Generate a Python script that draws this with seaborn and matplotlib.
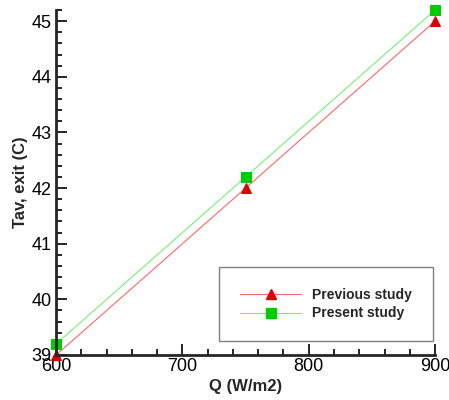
import numpy as np
import matplotlib
matplotlib.use('Agg')
import matplotlib.pyplot as plt
import pandas as pd
import seaborn as sns
from matplotlib.ticker import MultipleLocator
from matplotlib.lines import Line2D

q = [600, 750, 900]
previous = [39.0, 42.0, 45.0]
present = [39.2, 42.2, 45.2]

df = pd.DataFrame({'Q': q + q,
                   'T': previous + present,
                   'study': ['Previous study'] * 3 + ['Present study'] * 3})

sns.set_style('ticks')
plt.rcParams['font.family'] = ['Liberation Sans', 'DejaVu Sans']

fig = plt.figure(figsize=(4.49, 4.0), dpi=100)
ax = fig.add_axes([0.125, 0.1125, 0.844, 0.8625])

sns.lineplot(data=df, x='Q', y='T', hue='study', style='study',
             palette={'Previous study': '#ff6666', 'Present study': '#77ee77'},
             markers={'Previous study': '^', 'Present study': 's'},
             dashes=False, linewidth=0.8, markersize=7, ax=ax, legend=False)

# recolour markers to strong red / green
for line, mc in zip(ax.get_lines(), ['#dd0000', '#00cc00']):
    line.set_markerfacecolor(mc)
    line.set_markeredgecolor(mc)

ax.set_xlim(600, 900)
ax.set_ylim(39, 45.2)
ax.xaxis.set_major_locator(MultipleLocator(100))
ax.xaxis.set_minor_locator(MultipleLocator(20))
ax.yaxis.set_major_locator(MultipleLocator(1))
ax.yaxis.set_minor_locator(MultipleLocator(0.2))
ax.tick_params(which='both', direction='in', width=1.2, labelsize=13, colors='black')
ax.tick_params(which='major', length=8)
ax.tick_params(which='minor', length=4)
ax.tick_params(axis='x', pad=2)

for s in ['top', 'right']:
    ax.spines[s].set_visible(False)
for s in ['left', 'bottom']:
    ax.spines[s].set_linewidth(2)

ax.set_xlabel('Q (W/m2)', fontsize=12, fontweight='bold', labelpad=3)
ax.set_ylabel('Tav, exit (C)', fontsize=12, fontweight='bold', labelpad=2)

handles = [Line2D([], [], color='#ff6666', lw=0.8, marker='^', ms=7, mfc='#dd0000', mec='#dd0000'),
           Line2D([], [], color='#77ee77', lw=0.8, marker='s', ms=7, mfc='#00cc00', mec='#00cc00')]
leg = ax.legend(handles, ['Previous study', 'Present study'],
                loc='lower right', bbox_to_anchor=(0.995, 0.04),
                fancybox=False, edgecolor='gray', framealpha=1,
                prop={'weight': 'bold', 'size': 10}, handlelength=4.4,
                handletextpad=0.8, borderpad=1.5, labelspacing=0.35,
                borderaxespad=0)
leg.get_frame().set_linewidth(1)

for line in ax.get_lines():
    line.set_clip_on(False)

fig.savefig('out.png', dpi=100)
